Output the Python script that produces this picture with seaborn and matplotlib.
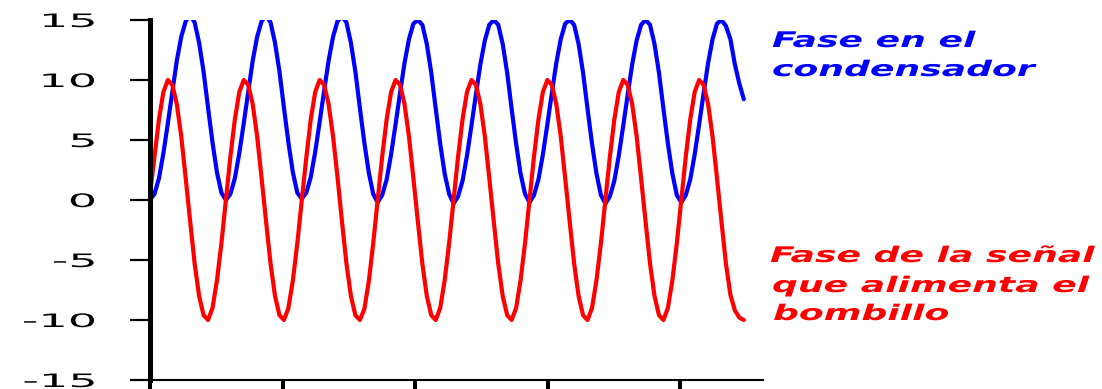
"""
plot.py
Fase en el condensador vs. fase de la señal que alimenta el bombillo
"""

import numpy as np
import matplotlib
matplotlib.use('Agg')
import matplotlib.pyplot as plt
import seaborn as sns
from matplotlib.patheffects import AbstractPathEffect
from matplotlib.transforms import Affine2D

# Data: one sample every ~4.5 px
DT = 0.03367  # sample step in x-tick units

blue = [
    0.0, 0.5, 1.8, 3.9, 6.4, 9.0, 11.6, 13.6, 14.9, 15.4, 14.8, 13.1, 10.7, 7.7, 4.8, 2.3, 0.6,
    0.0, 0.5, 1.8, 3.9, 6.4, 9.0, 11.6, 13.6, 14.9, 15.4, 14.8, 13.1, 10.7, 7.7, 4.8, 2.3, 0.6,
    0.1, 0.6, 1.9, 4.0, 6.5, 9.1, 11.6, 13.6, 14.9, 15.3, 14.8, 13.1, 10.7, 7.7, 4.8, 2.3, 0.5,
    -0.2, 0.4, 1.7, 3.8, 6.3, 8.9, 11.4, 13.4, 14.7, 15.0, 14.6, 13.0, 10.6, 7.6, 4.7, 2.2, 0.5,
    -0.3, 0.3, 1.6, 3.7, 6.2, 8.8, 11.3, 13.3, 14.6, 15.0, 14.6, 13.0, 10.6, 7.6, 4.7, 2.2, 0.5,
    -0.2, 0.4, 1.7, 3.8, 6.3, 8.9, 11.4, 13.4, 14.7, 15.0, 14.6, 13.0, 10.6, 7.6, 4.7, 2.2, 0.4,
    -0.3, 0.3, 1.6, 3.7, 6.2, 8.8, 11.3, 13.3, 14.6, 15.0, 14.6, 13.0, 10.6, 7.6, 4.7, 2.2, 0.4,
    -0.2, 0.4, 1.7, 3.8, 6.3, 8.9, 11.4, 13.4, 14.7, 15.0, 14.5, 13.4, 11.3, 9.7, 8.4,
]

red = [
    0.5, 3.6, 6.7, 9.0, 10.0, 9.6, 8.0, 5.3, 1.8, -1.8, -5.3, -8.0, -9.6, -10.0, -9.0, -6.7, -3.6,
    0.0, 3.6, 6.7, 9.0, 10.0, 9.6, 8.0, 5.3, 1.8, -1.8, -5.3, -8.0, -9.6, -10.0, -9.0, -6.7, -3.6,
    0.0, 3.5, 6.7, 9.0, 10.0, 9.6, 8.0, 5.3, 1.9, -1.8, -5.3, -8.0, -9.6, -10.0, -9.1, -6.8, -3.6,
    0.0, 3.6, 6.7, 9.0, 10.0, 9.6, 8.0, 5.3, 1.8, -1.8, -5.3, -8.0, -9.6, -10.0, -9.0, -6.7, -3.6,
    0.0, 3.6, 6.7, 9.0, 10.0, 9.6, 8.0, 5.3, 1.8, -1.8, -5.3, -8.0, -9.6, -10.0, -9.0, -6.7, -3.6,
    0.0, 3.6, 6.7, 9.0, 10.0, 9.6, 8.0, 5.3, 1.8, -1.8, -5.3, -8.0, -9.6, -10.0, -9.0, -6.7, -3.6,
    0.0, 3.6, 6.7, 9.0, 10.0, 9.6, 8.0, 5.3, 1.8, -1.8, -5.3, -8.0, -9.6, -10.0, -9.0, -6.7, -3.6,
    0.0, 3.6, 6.7, 9.0, 10.0, 9.6, 8.0, 5.3, 1.8, -1.8, -5.3, -7.9, -9.2, -9.8, -10.0,
]

y_ticks = [-15, -10, -5, 0, 5, 10, 15]
y_labels = ['-15', '-10', '-5', '0', '5', '10', '15']
x_ticks = [0, 1, 2, 3, 4]

blue_label = ['Fase en el', 'condensador']
red_label = ['Fase de la señal', 'que alimenta el', 'bombillo']


class Widen(AbstractPathEffect):
    """Stretch text glyphs horizontally (the original uses a very wide font)."""

    def __init__(self, sx, anchor='left'):
        super().__init__()
        self.sx = sx
        self.anchor = anchor

    def draw_path(self, renderer, gc, tpath, affine, rgbFace=None):
        x0 = tpath.get_extents().x1 if self.anchor == 'right' else 0.0
        stretch = Affine2D().translate(-x0, 0).scale(self.sx, 1).translate(x0, 0)
        renderer.draw_path(gc, tpath, stretch + affine, rgbFace)


sns.set_style('ticks')
plt.rcParams['font.family'] = ['DejaVu Sans']

W, H = 1102, 389
fig = plt.figure(figsize=(W / 100, H / 100), dpi=100)
ax = fig.add_axes([150 / W, 9 / H, 613 / W, 360 / H])

t = np.arange(len(blue)) * DT
sns.lineplot(x=t, y=blue, color='#0000FF', linewidth=3.0, estimator=None, ax=ax)
t = np.arange(len(red)) * DT
sns.lineplot(x=t, y=red, color='#FF0000', linewidth=3.0, estimator=None, ax=ax)

ax.set_xlim(0, 613 / 132.6)
ax.set_ylim(-15, 15)
ax.set_xticks(x_ticks)
ax.set_xticklabels([])
ax.set_yticks(y_ticks, y_labels)

for side in ['top', 'right']:
    ax.spines[side].set_visible(False)
ax.spines['left'].set_linewidth(3.6)
ax.spines['bottom'].set_linewidth(1.5)
ax.spines['left'].set_color('black')
ax.spines['bottom'].set_color('black')

ax.tick_params(axis='x', direction='out', length=6.5, width=2.9, color='black',
               bottom=True, labelbottom=False)
ax.tick_params(axis='y', direction='out', length=14.4, width=1.6, color='black',
               left=True, pad=25, labelsize=13.3, labelcolor='black')
for lbl in ax.get_yticklabels():
    lbl.set_path_effects([Widen(2.5, 'right')])

# Labels on the right, one text per line (baseline positions in px)
for line, (x, yb) in zip(blue_label, [(772, 47), (772, 76)]):
    txt = fig.text(x / W, 1 - yb / H, line, color='#0000FF', fontsize=15.5,
                   fontweight='bold', fontstyle='italic', va='baseline', ha='left')
    txt.set_path_effects([Widen(1.68)])
for line, (x, yb) in zip(red_label, [(770, 262), (772, 292), (773, 320)]):
    txt = fig.text(x / W, 1 - yb / H, line, color='#FF0000', fontsize=15.5,
                   fontweight='bold', fontstyle='italic', va='baseline', ha='left')
    txt.set_path_effects([Widen(1.68)])

fig.savefig('out.png', dpi=100, facecolor='white')
plt.close(fig)
print('Saved: out.png')
